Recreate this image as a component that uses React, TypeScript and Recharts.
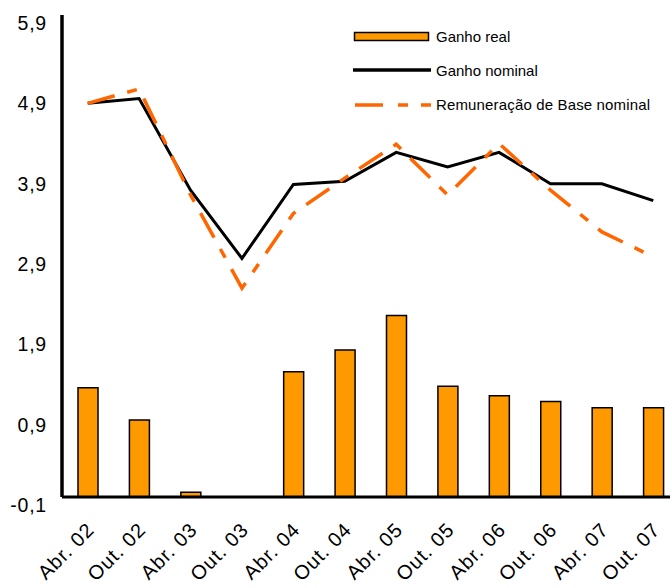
import React from 'react';
import { ComposedChart, Bar, Line, XAxis, YAxis, Legend } from 'recharts';

const categories = ['Abr. 02', 'Out. 02', 'Abr. 03', 'Out. 03', 'Abr. 04', 'Out. 04', 'Abr. 05', 'Out. 05', 'Abr. 06', 'Out. 06', 'Abr. 07', 'Out. 07'];
const ganhoReal = [1.26, 0.86, -0.04, -0.12, 1.46, 1.73, 2.16, 1.28, 1.16, 1.09, 1.01, 1.01];
const ganhoNominal = [4.80, 4.86, 3.72, 2.87, 3.79, 3.83, 4.19, 4.01, 4.19, 3.80, 3.80, 3.59];
const remuneracaoBase = [4.80, 4.98, 3.66, 2.50, 3.43, 3.87, 4.29, 3.66, 4.30, 3.72, 3.20, 2.89];
const yTicks = [-0.1, 0.9, 1.9, 2.9, 3.9, 4.9, 5.9];
const seriesNames = ['Ganho real', 'Ganho nominal', 'Remuneração de Base nominal'];

const AXIS_MIN = yTicks[0];
const AXIS_MAX = yTicks[yTicks.length - 1];

const data = categories.map((c, i) => ({
  cat: c,
  real: ganhoReal[i],
  nominal: ganhoNominal[i],
  base: remuneracaoBase[i],
}));

const FONT = '"Liberation Sans", Arial, sans-serif';
const BAR_FILL = '#FF9900';
const ORANGE = '#FF6600';
const DASH = '28 13 10 13';

const fmt = (v: number) => v.toFixed(1).replace('.', ',');

const YTick = (props: any) => {
  const { x, y, payload } = props;
  return (
    <text x={x - 15} y={y + 15} textAnchor="end" fontFamily={FONT} fontSize={19.5} letterSpacing={0.8} fill="#000">
      {fmt(payload.value)}
    </text>
  );
};

const XTick = (props: any) => {
  const { x, y, payload } = props;
  const px = x + 8;
  const py = y + 34;
  return (
    <text
      x={px}
      y={py}
      transform={`rotate(-45, ${px}, ${py})`}
      textAnchor="end"
      fontFamily={FONT}
      fontSize={20}
      letterSpacing={1}
      fill="#000"
    >
      {payload.value}
    </text>
  );
};

const LegendContent = () => (
  <svg width={330} height={120} style={{ display: 'block' }}>
    <rect x={14.5} y={32.5} width={74} height={8} fill={BAR_FILL} stroke="#000" strokeWidth={1.5} />
    <text x={96} y={42} fontFamily={FONT} fontSize={15} fill="#000">{seriesNames[0]}</text>
    <line x1={13} x2={91} y1={70} y2={70} stroke="#000" strokeWidth={3.5} />
    <text x={96} y={76} fontFamily={FONT} fontSize={15} fill="#000">{seriesNames[1]}</text>
    <line x1={15} x2={91} y1={105} y2={105} stroke={ORANGE} strokeWidth={3.5} strokeDasharray="28 15 10 13" />
    <text x={96} y={109.5} fontFamily={FONT} fontSize={15} letterSpacing={0.15} fill="#000">{seriesNames[2]}</text>
  </svg>
);

export default function App() {
  return (
    <div style={{ position: 'absolute', left: 0, top: 0, width: 670, height: 588, overflow: 'hidden', background: '#fff' }}>
      <ComposedChart
        width={690}
        height={588}
        data={data}
        margin={{ top: 15, right: 11, left: 0, bottom: 0 }}
        barCategoryGap={0}
      >
        <XAxis
          dataKey="cat"
          interval={0}
          height={91}
          tickLine={false}
          tickSize={0}
          tickMargin={0}
          axisLine={{ stroke: '#000', strokeWidth: 3 }}
          tick={<XTick />}
        />
        <YAxis
          type="number"
          domain={[AXIS_MIN, AXIS_MAX]}
          ticks={yTicks}
          width={62}
          tickLine={false}
          tickSize={0}
          tickMargin={0}
          axisLine={{ stroke: '#000', strokeWidth: 3.5 }}
          tick={<YTick />}
          allowDataOverflow
        />
        <Legend
          layout="vertical"
          align="center"
          verticalAlign="middle"
          wrapperStyle={{ position: 'absolute', left: 340, top: 0, width: 330, height: 120 }}
          content={<LegendContent />}
        />
        <Bar
          name={seriesNames[0]}
          dataKey={(d: any) => [AXIS_MIN, d.real]}
          fill={BAR_FILL}
          stroke="#000"
          strokeWidth={1.5}
          barSize={20}
          isAnimationActive={false}
        />
        <Line
          name={seriesNames[1]}
          type="linear"
          dataKey="nominal"
          stroke="#000"
          strokeWidth={3}
          dot={false}
          activeDot={false}
          isAnimationActive={false}
        />
        <Line
          name={seriesNames[2]}
          type="linear"
          dataKey="base"
          stroke={ORANGE}
          strokeWidth={3.5}
          strokeDasharray={DASH}
          dot={false}
          activeDot={false}
          isAnimationActive={false}
        />
      </ComposedChart>
    </div>
  );
}
